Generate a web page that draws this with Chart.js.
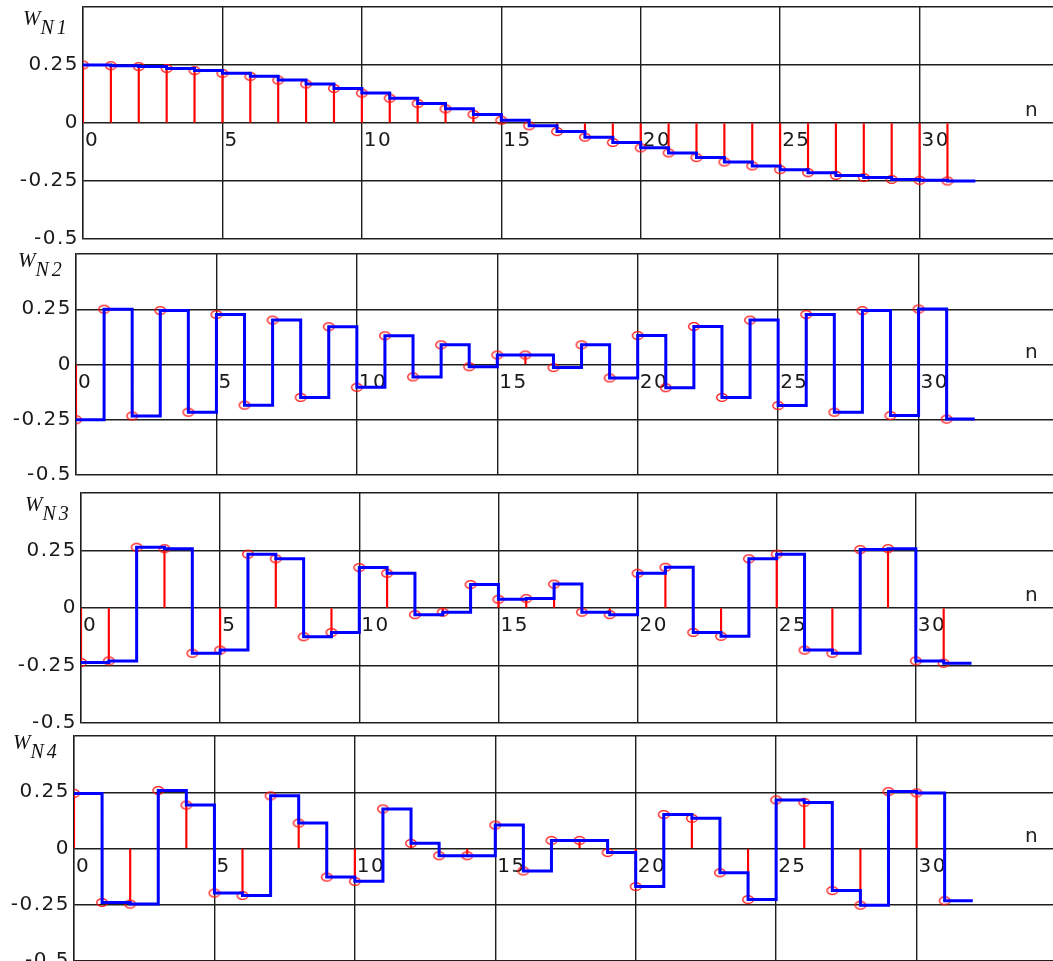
<!DOCTYPE html>
<html>
<head>
<meta charset="utf-8">
<script src="https://cdn.jsdelivr.net/npm/chart.js@4.4.1/dist/chart.umd.min.js"></script>
<style>
  html, body { margin: 0; padding: 0; background: #fff; overflow: hidden; width: 1053px; height: 961px; }
  canvas { position: absolute; left: 0; }
</style>
</head>
<body>
<canvas id="c1"></canvas>
<canvas id="c2"></canvas>
<canvas id="c3"></canvas>
<canvas id="c4"></canvas>
<script>
// sample index n
const n = [0, 1, 2, 3, 4, 5, 6, 7, 8, 9, 10, 11, 12, 13, 14, 15,
           16, 17, 18, 19, 20, 21, 22, 23, 24, 25, 26, 27, 28, 29, 30, 31];

// values
const wN1 = [0.250, 0.247, 0.243, 0.235, 0.226, 0.214, 0.201, 0.185, 0.168, 0.149, 0.129, 0.107, 0.084, 0.061, 0.037, 0.012,
             -0.012, -0.037, -0.061, -0.084, -0.107, -0.129, -0.149, -0.168, -0.185, -0.201, -0.214, -0.226, -0.235, -0.243, -0.247, -0.250];
const wN2 = [-0.250, 0.250, -0.233, 0.244, -0.216, 0.226, -0.184, 0.201, -0.149, 0.171, -0.103, 0.130, -0.056, 0.089, -0.010, 0.043,
             0.043, -0.014, 0.089, -0.061, 0.131, -0.105, 0.172, -0.149, 0.201, -0.186, 0.226, -0.216, 0.244, -0.231, 0.251, -0.247];
const wN3 = [-0.237, -0.230, 0.264, 0.258, -0.197, -0.183, 0.234, 0.214, -0.125, -0.106, 0.176, 0.151, -0.029, -0.018, 0.102, 0.038,
             0.041, 0.104, -0.018, -0.029, 0.151, 0.177, -0.106, -0.123, 0.214, 0.234, -0.183, -0.197, 0.254, 0.258, -0.230, -0.240];
const wN4 = [0.245, -0.240, -0.247, 0.258, 0.193, -0.198, -0.209, 0.234, 0.113, -0.127, -0.146, 0.176, 0.023, -0.032, -0.032, 0.104,
             -0.100, 0.036, 0.036, -0.018, -0.169, 0.151, 0.134, -0.108, -0.227, 0.216, 0.205, -0.187, -0.252, 0.253, 0.247, -0.232];

const xTickLabels = ['0', '5', '10', '15', '20', '25', '30', ''];
const yTickLabels = ['-0.5', '-0.25', '0', '0.25', ''];

// panel boxes (plot area in page pixels) and label spots
const panels = [
  { id: 'c1', values: wN1, sub: 'N1', left: 83, top: 7,   height: 232, width: 976, labelX: 23, labelY: 25 },
  { id: 'c2', values: wN2, sub: 'N2', left: 76, top: 254, height: 221, width: 983, labelX: 18, labelY: 267 },
  { id: 'c3', values: wN3, sub: 'N3', left: 81, top: 493, height: 230, width: 974, labelX: 25, labelY: 511 },
  { id: 'c4', values: wN4, sub: 'N4', left: 74, top: 736, height: 225, width: 983, labelX: 13, labelY: 749 }
];

const PAD = 20;
const gridColor = '#1e1e1e';
const tickFont = { family: 'DejaVu Sans', size: 20 };

// the markers in the picture are slightly flattened circles
const marker = document.createElement('canvas');
marker.width = 14;
marker.height = 11;
const mctx = marker.getContext('2d');
mctx.strokeStyle = '#ff1010';
mctx.lineWidth = 1.3;
mctx.beginPath();
mctx.ellipse(7, 5.5, 5.3, 3.9, 0, 0, Math.PI * 2);
mctx.stroke();

panels.forEach(p => {
  const canvas = document.getElementById(p.id);
  const canvasTop = p.top - PAD;
  canvas.width = p.left + p.width + 8;
  canvas.height = p.height + PAD * 2;
  canvas.style.top = canvasTop + 'px';

  const points = n.map((x, i) => ({ x: x, y: p.values[i] }));
  // the last sample is held for one more step
  const stepPoints = points.concat([{ x: n[n.length - 1] + 1, y: p.values[p.values.length - 1] }]);

  const labelPlugin = {
    id: 'labels',
    beforeDraw(chart) {
      chart.ctx.letterSpacing = '1.5px';
    },
    afterDraw(chart) {
      const ctx = chart.ctx;
      ctx.save();
      ctx.fillStyle = '#111';
      ctx.textBaseline = 'alphabetic';
      ctx.textAlign = 'left';
      ctx.letterSpacing = '0px';
      ctx.font = 'italic 21px "Liberation Serif"';
      const wy = p.labelY - canvasTop;
      ctx.fillText('W', p.labelX, wy);
      const ww = ctx.measureText('W').width;
      ctx.letterSpacing = '3px';
      ctx.font = 'italic 20px "Liberation Serif"';
      ctx.fillText(p.sub, p.labelX + ww, wy + 9);
      ctx.letterSpacing = '0px';
      ctx.font = '20px "DejaVu Sans"';
      ctx.fillStyle = '#222';
      ctx.fillText('n', 1025, chart.scales.y.getPixelForValue(0) - 7);
      ctx.restore();
    }
  };

  new Chart(canvas, {
    type: 'line',
    data: {
      datasets: [
        {
          data: stepPoints,
          borderColor: '#0000ff',
          borderWidth: 3,
          stepped: true,
          pointRadius: 0,
          fill: false,
          order: 1
        },
        {
          data: points,
          showLine: false,
          pointStyle: marker,
          pointRadius: 5,
          order: 2
        },
        {
          type: 'bar',
          data: points,
          backgroundColor: '#ff0000',
          barThickness: 1.5,
          order: 3
        }
      ]
    },
    options: {
      responsive: false,
      animation: false,
      devicePixelRatio: 1,
      events: [],
      layout: { padding: { left: 0, top: PAD, bottom: PAD, right: 8 } },
      plugins: { legend: { display: false }, tooltip: { enabled: false } },
      scales: {
        x: {
          type: 'linear',
          min: 0,
          max: 35,
          offset: false,
          position: { y: 0 },
          grid: { color: gridColor, lineWidth: 1.4, drawTicks: false, offset: false },
          border: { display: false },
          ticks: {
            stepSize: 5,
            autoSkip: false,
            maxRotation: 0,
            align: 'start',
            padding: 6,
            labelOffset: 2,
            font: tickFont,
            color: '#1a1a1a',
            callback: (v, i) => xTickLabels[i] ?? ''
          }
        },
        y: {
          type: 'linear',
          min: -0.5,
          max: 0.5,
          grid: { color: gridColor, lineWidth: 1.4, drawTicks: false },
          border: { display: true, color: gridColor, width: 1.4 },
          ticks: {
            stepSize: 0.25,
            padding: 4,
            font: tickFont,
            color: '#1a1a1a',
            callback: (v, i) => yTickLabels[i] ?? ''
          },
          afterFit: scale => { scale.width = p.left; }
        }
      }
    },
    plugins: [labelPlugin]
  });
});
</script>
</body>
</html>
